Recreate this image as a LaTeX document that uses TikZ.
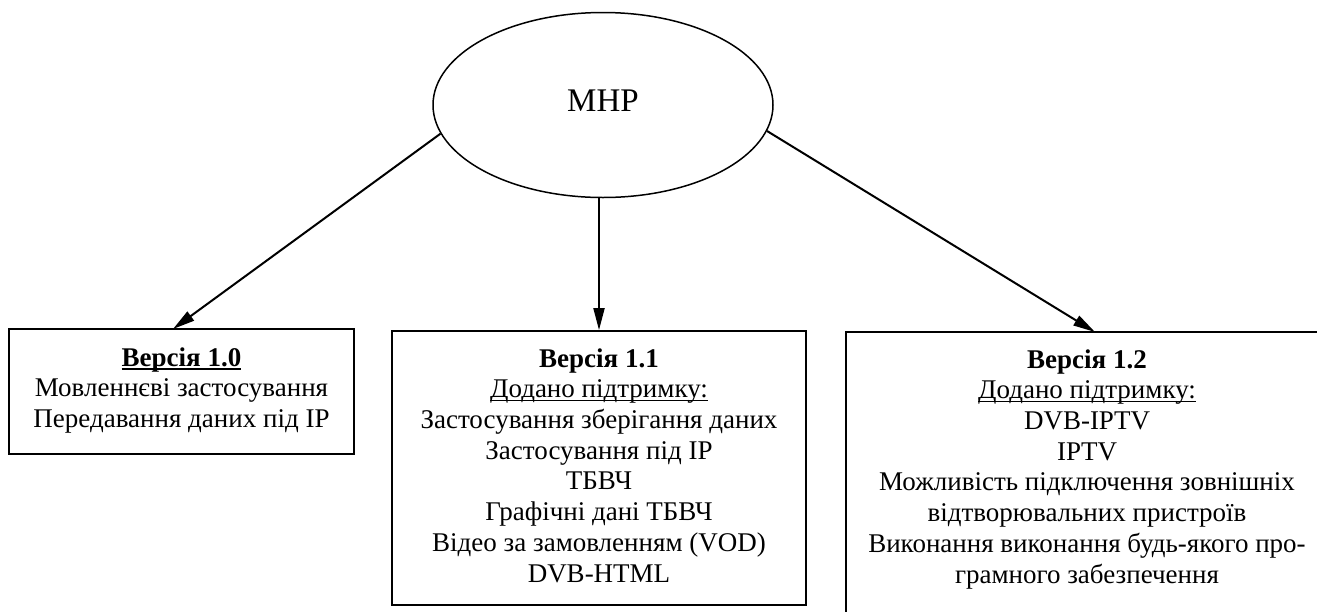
\documentclass[tikz,border=0pt]{standalone}
\usepackage{fontspec}
\setmainfont{Liberation Serif}
\usetikzlibrary{shapes.geometric,arrows.meta}
\newcommand\myul[1]{\setbox0\hbox{#1}\rlap{\rule[-1.8pt]{\wd0}{0.7pt}}\box0}
\begin{document}
\begin{tikzpicture}[x=0.5pt,y=-0.5pt,
  every node/.style={font=\fontsize{13.5pt}{15.35pt}\selectfont},
  box/.style={draw,line width=0.9pt,rectangle,inner sep=0pt},
  txt/.style={align=center,inner sep=0pt,anchor=north},
  arr/.style={line width=1pt,-{Triangle[length=11pt,width=5.5pt]}}]
\clip (0,0) rectangle (1317,611);
\node[draw,ellipse,line width=0.75pt,minimum width=170pt,minimum height=92.5pt,inner sep=0pt,text depth=4pt,font=\fontsize{16.5pt}{19pt}\selectfont] (mhp) at (603,105) {MHP};

\node[box,minimum width=172.5pt,minimum height=62.5pt] (b1) at (181.5,391.5) {};
\node[txt] (t1) at (181.5,347) {\myul{\textbf{Версія 1.0}}\\Мовленнєві застосування\\Передавання даних під IP};

\node[box,minimum width=207pt,minimum height=137pt] (b2) at (599,468) {};
\node[txt] (t2) at (599,348) {\textbf{Версія 1.1}\\\myul{Додано підтримку:}\\Застосування зберігання даних\\Застосування під IP\\ТБВЧ\\Графічні дані ТБВЧ\\Відео за замовленням (VOD)\\DVB-HTML};

\node[box,minimum width=242pt,minimum height=154pt] (b3) at (1088,486) {};
\node[txt] (t3) at (1087,349) {\textbf{Версія 1.2}\\\myul{Додано підтримку:}\\DVB-IPTV\\IPTV\\Можливість підключення зовнішніх\\відтворювальних пристроїв\\Виконання виконання будь-якого про-\\грамного забезпечення};

\coordinate (a1) at (173,329);
\coordinate (a3) at (1095,332);
\draw[arr] (mhp.190.6) -- (a1);
\draw[arr] (mhp.south -| b2.north) -- (b2.north);
\draw[arr] (mhp.351.7) -- (a3);
\end{tikzpicture}
\end{document}
